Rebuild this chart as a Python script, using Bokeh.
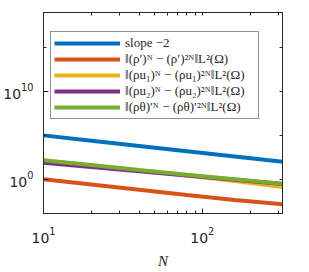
from bokeh.plotting import figure
from bokeh.models import Range1d, FixedTicker, LogAxis
from bokeh.embed import file_html
from bokeh.resources import INLINE

# ---- data ----
N = [10, 20, 40, 80, 160, 320]
slope_ref = [1.0e5, 2.5e4, 6.25e3, 1.5625e3, 3.90625e2, 9.765625e1]
err_rho = [1.0, 0.251, 0.0631, 0.0158, 0.00447, 0.00141]
err_rhou1 = [132.0, 36.3, 10.0, 2.69, 0.631, 0.135]
err_rhou2 = [74.1, 25.1, 8.32, 2.75, 0.891, 0.282]
err_rhotheta = [148.0, 41.7, 11.7, 3.31, 1.0, 0.302]

labels = [
    "slope \u22122",
    "\u2016(\u03c1\u2032)\u1d3a \u2212 (\u03c1\u2032)\u00b2\u1d3a\u2016L\u00b2(\u03a9)",
    "\u2016(\u03c1u\u2081)\u1d3a \u2212 (\u03c1u\u2081)\u00b2\u1d3a\u2016L\u00b2(\u03a9)",
    "\u2016(\u03c1u\u2082)\u1d3a \u2212 (\u03c1u\u2082)\u00b2\u1d3a\u2016L\u00b2(\u03a9)",
    "\u2016(\u03c1\u03b8)\u2032\u1d3a \u2212 (\u03c1\u03b8)\u2032\u00b2\u1d3a\u2016L\u00b2(\u03a9)",
]
colors = ["#0072BD", "#D95319", "#EDB120", "#7E2F8E", "#77AC30"]

x_major = [10, 100]
x_minor = [20, 30, 40, 50, 60, 70, 80, 90, 200, 300]
y_major = [1e0, 1e10]
y_minor = [1e-5, 1e5, 1e15]

p = figure(frame_width=239, frame_height=201, x_axis_type="log", y_axis_type="log",
           x_range=Range1d(10, 320), y_range=Range1d(10 ** -3.9, 1e19),
           output_backend="svg", toolbar_location=None,
           min_border_left=0, min_border_right=20, min_border_top=12,
           min_border_bottom=0)
p.background_fill_color = "white"
p.border_fill_color = "white"
p.outline_line_color = "#262626"
p.outline_line_width = 1
p.outline_line_alpha = 1
p.xgrid.visible = False
p.ygrid.visible = False

series = [slope_ref, err_rho, err_rhou1, err_rhou2, err_rhotheta]
for ys, c, lab in zip(series, colors, labels):
    p.line(N, ys, line_color=c, line_width=4, legend_label=lab)

def style_axis(ax):
    ax.axis_line_color = "#262626"
    ax.major_tick_line_color = "#262626"
    ax.minor_tick_line_color = "#262626"
    ax.major_tick_in = 5
    ax.major_tick_out = 0
    ax.minor_tick_in = 3
    ax.minor_tick_out = 0
    ax.major_label_text_color = "#262626"
    ax.major_label_text_font = "DejaVu Sans"
    ax.major_label_text_font_size = "14px"

xa = p.xaxis[0]
xa.ticker = FixedTicker(ticks=x_major, minor_ticks=x_minor)
style_axis(xa)
xa.major_label_standoff = 13
xa.axis_label = "N"
xa.axis_label_text_font = "Liberation Serif"
xa.axis_label_text_font_style = "italic"
xa.axis_label_text_font_size = "15px"
xa.axis_label_text_color = "#262626"
xa.axis_label_standoff = 7

ya = p.yaxis[0]
ya.ticker = FixedTicker(ticks=y_major, minor_ticks=y_minor)
style_axis(ya)
ya.major_label_standoff = 10

top = LogAxis(ticker=FixedTicker(ticks=[], minor_ticks=x_major + x_minor))
style_axis(top)
p.add_layout(top, "above")
right = LogAxis(ticker=FixedTicker(ticks=[], minor_ticks=y_major + y_minor))
style_axis(right)
p.add_layout(right, "right")

lg = p.legend[0]
lg.location = (7, 94)
lg.border_line_color = "#262626"
lg.border_line_width = 1
lg.background_fill_color = "white"
lg.background_fill_alpha = 1
lg.padding = 3
lg.spacing = 0
lg.margin = 0
lg.glyph_width = 66
lg.glyph_height = 16
lg.label_height = 16
lg.label_width = 130
lg.label_standoff = 5
lg.label_text_font = "Liberation Serif"
lg.label_text_font_size = "13px"
lg.label_text_color = "#262626"

open("out.html", "w").write(file_html(p, INLINE))
